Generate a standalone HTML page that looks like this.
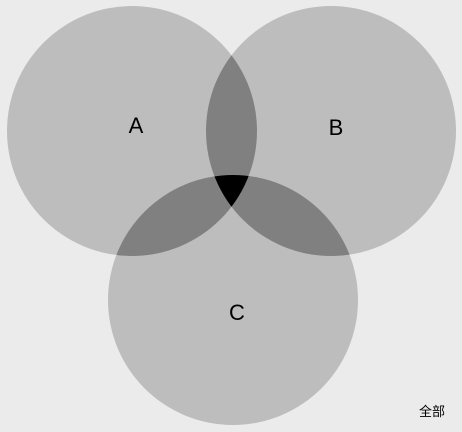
<!DOCTYPE html>
<html><head><meta charset="utf-8"><style>
html,body{margin:0;padding:0;background:#ebebeb;}
svg{display:block;}
</style></head><body>
<svg width="462" height="432" viewBox="0 0 462 432">
<defs>
<clipPath id="ca"><circle cx="132" cy="131" r="125"/></clipPath>
<clipPath id="cb"><circle cx="331" cy="131" r="125"/></clipPath>
<clipPath id="cc"><circle cx="233" cy="300" r="125"/></clipPath>
</defs>
<rect width="462" height="432" fill="#ebebeb"/>
<circle cx="132" cy="131" r="125" fill="#bdbdbd"/>
<circle cx="331" cy="131" r="125" fill="#bdbdbd"/>
<circle cx="233" cy="300" r="125" fill="#bdbdbd"/>
<g clip-path="url(#ca)"><circle cx="331" cy="131" r="125" fill="#808080"/></g>
<g clip-path="url(#ca)"><circle cx="233" cy="300" r="125" fill="#808080"/></g>
<g clip-path="url(#cb)"><circle cx="233" cy="300" r="125" fill="#808080"/></g>
<g clip-path="url(#ca)"><g clip-path="url(#cb)"><circle cx="233" cy="300" r="125" fill="#000"/></g></g>
<g font-family="'Liberation Sans','Noto Sans CJK SC',sans-serif" fill="#000" text-anchor="middle">
<text x="136" y="133" font-size="22" transform="scale(1,1)">A</text>
<text x="336" y="135" font-size="22">B</text>
<text x="237" y="320" font-size="22">C</text>
<text x="432" y="416" font-size="13">全部</text>
</g>
</svg>
</body></html>
